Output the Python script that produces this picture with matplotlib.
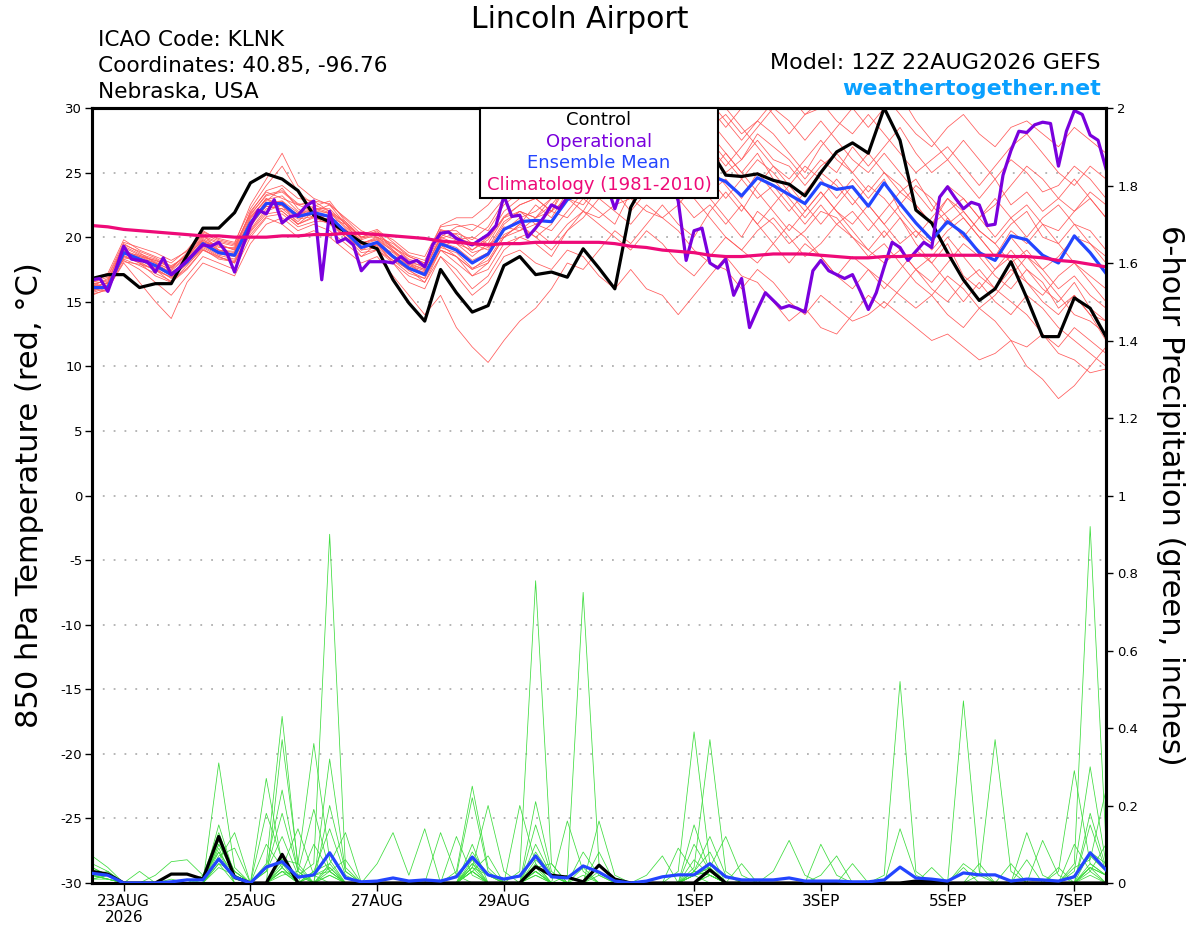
import numpy as np
import matplotlib
matplotlib.use("Agg")
import matplotlib.pyplot as plt
from matplotlib.patches import Rectangle

plt.rcParams['font.family'] = ['DejaVu Sans']

# ---------------- DATA ----------------
run_start = '2026-08-22T12:00'
n6 = 65     # 6-hourly points (0..384 h)
n3 = 129    # 3-hourly points for operational

tick_dates = ['2026-08-23', '2026-08-25', '2026-08-27', '2026-08-29',
              '2026-09-01', '2026-09-03', '2026-09-05', '2026-09-07']
tick_labels = ['23AUG\n2026', '25AUG', '27AUG', '29AUG', '1SEP', '3SEP', '5SEP', '7SEP']

control_t = [16.8, 17.1, 17.1, 16.1, 16.4, 16.4, 18.6, 20.7, 20.7, 21.9,
             24.2, 24.9, 24.5, 23.6, 21.7, 21.2, 20.4, 19.6, 19.1, 16.7,
             14.9, 13.5, 17.5, 15.7, 14.2, 14.7, 17.8, 18.5, 17.1, 17.3,
             16.9, 19.1, 17.6, 16.0, 22.3, 24.5, 26.0, 26.5, 27.5, 26.8,
             24.8, 24.7, 24.9, 24.4, 24.1, 23.2, 25.0, 26.6, 27.3, 26.5,
             30.0, 27.5, 22.1, 21.1, 18.8, 16.7, 15.1, 16.0, 18.1, 15.3,
             12.3, 12.3, 15.3, 14.5, 12.3]

mean_t = [16.1, 16.1, 18.8, 18.3, 17.8, 17.1, 18.1, 19.5, 18.8, 18.6,
          21.1, 22.6, 22.6, 21.6, 21.9, 21.6, 20.4, 19.2, 19.6, 18.5,
          17.6, 17.1, 19.5, 19.0, 18.0, 18.7, 20.6, 21.2, 21.3, 21.2,
          22.9, 23.5, 23.8, 24.2, 24.8, 25.2, 25.5, 25.3, 25.0, 24.8,
          24.3, 23.2, 24.6, 24.0, 23.3, 22.6, 24.2, 23.7, 23.9, 22.4,
          24.2, 22.6, 21.1, 19.8, 21.2, 20.3, 18.8, 18.2, 20.1, 19.8,
          18.6, 18.0, 20.1, 18.8, 17.2]

clim_t = [20.9, 20.8, 20.6, 20.5, 20.4, 20.3, 20.2, 20.1, 20.1, 20.0,
          20.0, 20.0, 20.1, 20.1, 20.2, 20.2, 20.3, 20.3, 20.2, 20.1,
          20.0, 19.9, 19.7, 19.6, 19.5, 19.4, 19.5, 19.5, 19.6, 19.6,
          19.6, 19.6, 19.6, 19.5, 19.3, 19.2, 19.0, 18.9, 18.8, 18.6,
          18.5, 18.5, 18.6, 18.7, 18.7, 18.7, 18.6, 18.5, 18.4, 18.4,
          18.5, 18.5, 18.6, 18.6, 18.6, 18.6, 18.6, 18.6, 18.5, 18.5,
          18.4, 18.2, 18.1, 17.9, 17.7]

oper_t = [16.7, 16.8, 15.8, 17.5, 19.3, 18.3, 18.2, 18.1, 17.3, 18.4,
          17.1, 17.6, 18.2, 18.8, 19.4, 19.3, 19.6, 18.8, 17.3, 19.2,
          20.9, 22.1, 21.8, 22.9, 21.1, 21.6, 21.7, 22.4, 22.8, 16.7,
          22.0, 19.6, 19.9, 19.4, 17.4, 18.1, 18.1, 18.1, 18.0, 18.5,
          18.0, 18.2, 17.7, 19.4, 20.3, 20.4, 19.9, 19.6, 19.4, 19.8,
          20.2, 20.9, 23.2, 21.6, 21.7, 20.0, 20.7, 21.5, 22.5, 22.2,
          23.1, 24.0, 25.0, 24.5, 25.5, 24.0, 22.2, 24.0, 25.0, 26.0,
          25.5, 26.5, 25.5, 24.5, 22.8, 18.2, 20.5, 20.7, 18.0, 17.6,
          18.3, 15.5, 16.8, 13.0, 14.4, 15.7, 15.1, 14.5, 14.7, 14.5,
          14.2, 17.4, 18.2, 17.4, 17.1, 16.8, 17.1, 15.8, 14.4, 15.7,
          17.7, 19.6, 19.2, 18.2, 18.9, 19.6, 19.2, 23.1, 23.9, 23.0,
          22.2, 22.7, 22.5, 20.9, 21.0, 24.8, 26.7, 28.2, 28.1, 28.7,
          28.9, 28.8, 25.5, 28.2, 29.8, 29.5, 27.9, 27.5, 25.3]

member_t01 = [16.0, 16.5, 19.5, 18.8, 18.0, 17.5, 18.5, 20.0, 19.5, 19.0,
              22.0, 23.5, 23.0, 22.5, 22.0, 21.5, 21.0, 20.0, 20.5, 19.0,
              18.0, 17.5, 20.0, 19.5, 19.0, 20.0, 21.5, 22.5, 23.0, 22.0,
              24.0, 25.0, 26.0, 27.0, 26.5, 28.0, 29.0, 28.5, 27.0, 28.5,
              29.5, 28.0, 29.0, 30.5, 31.0, 29.5, 30.0, 31.5, 31.0, 30.0,
              31.0, 29.5, 28.0, 27.0, 28.5, 29.5, 28.0, 27.0, 28.5, 29.0,
              28.0, 27.0, 28.5, 27.5, 26.5]
member_t02 = [16.5, 16.0, 18.5, 18.0, 17.5, 16.5, 17.5, 19.0, 18.5, 18.0,
              20.5, 22.0, 22.5, 21.0, 21.5, 21.0, 20.0, 18.5, 19.0, 18.0,
              16.5, 16.0, 18.5, 17.5, 16.0, 17.0, 19.0, 20.0, 20.5, 19.5,
              21.0, 22.0, 21.5, 22.5, 23.0, 22.0, 21.5, 20.5, 19.0, 18.0,
              17.5, 16.0, 17.5, 16.5, 15.0, 14.0, 15.5, 14.5, 13.5, 14.0,
              15.0, 14.0, 13.0, 12.0, 12.5, 11.5, 10.5, 11.0, 12.0, 10.0,
              9.0, 7.5, 8.5, 10.0, 11.5]
member_t03 = [15.8, 16.2, 19.0, 18.5, 18.0, 17.0, 18.0, 19.8, 19.0, 18.8,
              21.5, 23.0, 22.0, 21.0, 22.0, 22.5, 21.0, 19.5, 20.0, 19.0,
              18.0, 17.0, 19.0, 18.5, 17.0, 18.0, 20.0, 21.0, 20.0, 21.0,
              23.0, 22.0, 24.0, 25.5, 24.0, 26.0, 25.0, 24.0, 23.0, 21.5,
              20.0, 19.0, 20.5, 21.5, 20.0, 18.5, 19.5, 21.0, 22.0, 20.5,
              22.0, 23.5, 22.5, 21.0, 22.0, 23.0, 21.5, 20.0, 21.5, 22.5,
              21.0, 20.5, 22.0, 23.0, 21.5]
member_t04 = [16.2, 16.8, 18.2, 17.5, 16.5, 15.5, 17.0, 18.5, 18.0, 17.5,
              20.0, 21.5, 21.0, 20.0, 20.5, 20.0, 19.0, 18.0, 18.5, 17.0,
              15.5, 14.0, 15.5, 13.0, 11.5, 10.3, 12.0, 13.5, 14.5, 16.0,
              18.0, 17.5, 19.0, 20.5, 19.5, 21.0, 22.5, 21.0, 20.0, 22.0,
              23.5, 22.0, 24.0, 25.5, 24.5, 26.0, 27.5, 26.0, 25.0, 26.5,
              25.0, 23.5, 24.5, 22.5, 21.0, 22.0, 20.5, 19.5, 18.0, 19.0,
              17.5, 16.0, 17.0, 15.5, 14.5]
member_t05 = [15.5, 16.0, 18.0, 16.5, 15.0, 13.7, 16.5, 18.0, 17.5, 17.0,
              19.5, 21.0, 21.5, 20.5, 21.0, 20.5, 19.5, 18.5, 19.5, 18.0,
              17.0, 16.5, 19.0, 18.5, 17.5, 18.5, 20.5, 21.5, 22.0, 23.0,
              24.5, 26.0, 25.0, 27.0, 28.5, 27.0, 29.0, 30.5, 29.5, 28.0,
              26.5, 25.0, 26.5, 24.5, 23.0, 21.5, 23.0, 24.5, 23.0, 21.5,
              20.0, 21.5, 19.5, 18.0, 19.5, 17.0, 16.0, 17.5, 19.0, 17.5,
              16.0, 15.0, 16.5, 14.5, 13.5]
member_t06 = [16.8, 17.2, 19.8, 19.0, 18.5, 18.0, 19.0, 20.5, 19.8, 19.5,
              22.5, 24.5, 26.5, 24.0, 23.0, 22.5, 21.5, 20.5, 20.0, 19.5,
              18.5, 18.0, 20.5, 20.0, 19.5, 19.0, 21.0, 22.0, 21.5, 22.5,
              24.0, 25.5, 24.5, 26.0, 27.0, 28.5, 27.5, 29.0, 28.0, 26.5,
              25.0, 26.0, 27.5, 26.0, 25.5, 24.0, 25.5, 26.5, 25.0, 23.5,
              25.0, 24.0, 22.5, 21.0, 23.0, 22.0, 20.5, 19.5, 21.0, 22.0,
              20.0, 19.5, 21.0, 20.5, 19.0]
member_t07 = [16.0, 15.8, 18.6, 18.0, 17.0, 16.5, 17.8, 19.2, 18.5, 18.0,
              20.8, 22.5, 22.8, 21.5, 21.8, 21.0, 20.5, 19.0, 19.2, 18.2,
              17.5, 16.5, 18.5, 17.0, 15.5, 16.5, 18.5, 19.0, 18.0, 17.5,
              19.0, 18.5, 17.0, 16.0, 17.5, 16.0, 15.5, 14.0, 15.5, 17.0,
              18.5, 17.0, 16.5, 15.0, 13.5, 14.5, 13.0, 12.5, 14.0, 15.5,
              14.5, 16.0, 17.5, 16.0, 15.0, 16.5, 17.5, 16.0, 15.0, 14.0,
              12.5, 11.5, 13.0, 12.0, 11.0]
member_t08 = [16.4, 16.6, 19.2, 18.6, 18.2, 17.8, 18.5, 19.8, 19.2, 19.2,
              21.8, 23.2, 23.5, 22.5, 22.8, 22.0, 20.8, 19.8, 20.2, 19.2,
              18.5, 18.0, 20.5, 20.5, 19.5, 20.0, 22.0, 23.0, 24.0, 23.5,
              25.5, 27.0, 26.5, 28.0, 29.5, 28.5, 30.5, 31.0, 30.0, 29.0,
              27.5, 26.0, 28.0, 27.0, 26.0, 24.5, 26.0, 25.0, 27.0, 25.5,
              27.0, 28.5, 26.5, 25.0, 26.0, 24.5, 23.0, 24.5, 22.5, 23.5,
              22.0, 23.0, 24.5, 23.0, 21.5]
member_t09 = [15.6, 15.9, 18.4, 18.2, 17.6, 16.8, 18.0, 19.4, 18.7, 18.5,
              20.6, 22.2, 22.5, 21.8, 22.2, 21.8, 20.2, 19.4, 19.8, 18.6,
              17.8, 17.2, 19.8, 19.5, 18.5, 19.5, 21.5, 22.0, 21.0, 20.5,
              22.0, 23.5, 24.5, 23.0, 24.5, 25.5, 26.5, 25.0, 26.0, 27.5,
              26.0, 24.5, 23.0, 24.0, 22.5, 21.0, 22.5, 21.0, 20.0, 18.5,
              19.5, 18.0, 16.5, 15.5, 17.0, 16.0, 14.5, 15.5, 17.0, 18.5,
              17.0, 15.5, 14.0, 13.5, 12.5]
member_t10 = [16.6, 16.4, 18.9, 18.4, 18.0, 17.2, 18.2, 19.6, 19.4, 19.0,
              21.2, 22.8, 23.8, 22.2, 21.5, 21.2, 20.6, 19.2, 19.4, 18.8,
              17.8, 17.4, 19.2, 19.8, 20.0, 19.5, 20.0, 20.5, 21.5, 22.0,
              21.5, 23.0, 22.0, 21.0, 23.5, 24.5, 23.5, 25.0, 26.5, 25.5,
              24.0, 22.5, 21.0, 22.5, 24.0, 25.5, 24.5, 23.0, 24.5, 23.0,
              24.5, 22.0, 20.5, 19.5, 21.5, 20.0, 19.0, 17.5, 18.5, 16.5,
              15.5, 17.0, 18.0, 16.5, 15.0]
member_t11 = [16.2, 16.4, 18.7, 18.5, 18.2, 17.6, 18.8, 20.2, 19.0, 18.6,
              21.0, 22.4, 22.2, 21.2, 22.4, 22.8, 21.2, 20.0, 20.4, 19.8,
              18.8, 18.5, 20.8, 21.0, 20.5, 21.5, 23.0, 24.0, 25.0, 24.0,
              26.0, 25.0, 27.0, 26.0, 25.5, 24.0, 25.5, 27.0, 26.0, 24.5,
              23.0, 24.5, 26.0, 25.0, 23.5, 22.0, 23.5, 22.0, 21.0, 22.5,
              21.0, 19.5, 20.5, 19.0, 20.5, 21.5, 20.0, 18.5, 20.0, 18.5,
              17.5, 18.5, 20.0, 19.5, 18.0]
member_t12 = [15.9, 16.3, 18.3, 17.8, 17.2, 16.6, 17.6, 19.0, 18.4, 18.2,
              20.4, 21.8, 22.0, 21.0, 21.6, 21.4, 20.0, 18.8, 19.0, 18.2,
              17.2, 16.8, 19.0, 18.0, 17.0, 17.5, 19.5, 20.0, 19.5, 18.5,
              20.5, 21.5, 23.0, 22.0, 21.0, 22.5, 21.5, 22.5, 24.0, 23.0,
              21.5, 20.0, 22.0, 21.0, 19.5, 20.5, 22.0, 21.5, 20.0, 19.0,
              18.0, 19.0, 17.5, 16.5, 18.0, 19.5, 18.5, 17.0, 16.0, 17.5,
              16.5, 14.5, 15.5, 14.0, 13.5]
member_t13 = [16.3, 16.0, 19.1, 18.1, 17.4, 16.9, 18.3, 19.7, 19.0, 18.9,
              21.4, 23.0, 22.4, 21.4, 21.6, 21.6, 20.2, 19.0, 19.6, 18.4,
              17.4, 16.8, 19.4, 18.5, 17.5, 18.0, 20.0, 21.0, 22.5, 21.5,
              23.5, 24.0, 25.5, 24.5, 26.0, 27.5, 28.5, 27.0, 29.0, 30.5,
              29.0, 27.5, 29.0, 28.0, 26.5, 25.0, 27.0, 28.5, 30.0, 28.5,
              30.0, 31.0, 29.0, 27.5, 26.0, 27.5, 26.0, 24.5, 26.0, 25.0,
              23.5, 24.0, 25.5, 24.5, 23.0]
member_t14 = [16.0, 16.2, 18.5, 18.3, 17.9, 17.3, 18.0, 19.3, 18.6, 18.3,
              20.9, 22.4, 22.2, 21.8, 21.9, 21.2, 20.4, 19.6, 19.3, 18.4,
              17.6, 17.3, 19.6, 19.2, 18.2, 18.8, 20.8, 20.5, 21.0, 22.0,
              23.0, 22.5, 24.0, 23.5, 22.0, 23.5, 24.5, 23.0, 21.5, 22.5,
              21.0, 22.5, 21.0, 19.5, 18.0, 19.5, 18.5, 17.0, 16.0, 17.5,
              16.0, 17.5, 19.0, 18.0, 16.5, 15.0, 16.5, 15.0, 14.0, 15.5,
              14.5, 13.0, 12.0, 11.0, 10.0]
member_t15 = [16.1, 16.5, 18.8, 18.6, 18.1, 17.4, 18.4, 19.9, 19.3, 19.1,
              21.6, 22.9, 23.2, 22.0, 22.2, 22.2, 21.0, 19.6, 19.8, 18.9,
              18.0, 17.8, 20.2, 19.8, 18.8, 19.2, 21.2, 22.0, 21.5, 23.0,
              24.0, 23.5, 25.0, 26.5, 28.0, 27.0, 26.0, 27.5, 28.5, 27.0,
              25.5, 27.0, 28.5, 30.0, 29.0, 27.5, 29.0, 27.5, 26.0, 25.0,
              26.5, 25.0, 23.5, 22.0, 24.0, 23.0, 21.5, 22.5, 24.0, 25.5,
              24.5, 23.0, 22.0, 23.5, 22.5]
member_t16 = [16.5, 16.9, 19.4, 18.9, 18.4, 17.7, 18.6, 20.1, 19.6, 19.3,
              21.9, 23.6, 24.0, 23.0, 22.8, 22.6, 21.4, 20.2, 20.6, 19.6,
              18.6, 18.2, 20.6, 20.2, 19.0, 19.8, 21.6, 22.5, 23.0, 22.0,
              24.5, 26.0, 25.0, 26.5, 25.0, 26.5, 27.5, 26.0, 24.5, 23.5,
              24.5, 23.0, 25.0, 23.5, 22.0, 23.5, 25.0, 24.0, 22.5, 24.0,
              23.0, 21.5, 20.0, 21.5, 23.0, 21.5, 20.0, 18.5, 20.5, 19.5,
              21.0, 19.5, 18.0, 17.0, 16.0]
member_t17 = [15.7, 16.1, 18.1, 17.9, 17.5, 16.9, 17.9, 19.1, 18.3, 18.1,
              20.2, 21.6, 21.8, 20.8, 21.2, 21.2, 20.0, 19.2, 19.4, 18.6,
              17.6, 17.0, 19.2, 18.8, 17.6, 18.2, 20.2, 20.8, 20.0, 19.0,
              20.5, 22.0, 21.0, 20.0, 19.0, 20.5, 19.5, 18.0, 17.0, 18.5,
              20.0, 19.0, 18.0, 19.5, 21.0, 20.0, 18.5, 17.0, 18.5, 17.5,
              16.5, 15.5, 14.5, 15.5, 14.0, 13.0, 14.5, 13.5, 12.0, 11.5,
              12.5, 11.0, 10.5, 9.5, 9.8]
member_t18 = [16.7, 17.0, 19.6, 19.2, 18.8, 18.2, 18.9, 20.4, 19.9, 19.6,
              22.2, 24.0, 25.5, 23.5, 22.5, 22.0, 21.2, 20.0, 20.0, 19.2,
              18.2, 17.6, 20.0, 20.8, 21.0, 20.5, 22.5, 23.5, 24.5, 25.0,
              26.5, 27.5, 28.5, 30.0, 31.0, 30.0, 29.0, 30.5, 31.5, 30.0,
              28.5, 30.0, 31.0, 29.5, 28.0, 29.5, 30.5, 29.0, 28.0, 29.5,
              28.0, 26.5, 25.0, 26.0, 27.0, 25.5, 24.0, 25.5, 27.0, 28.0,
              26.5, 25.0, 24.0, 25.5, 24.5]
member_t19 = [16.3, 16.7, 19.3, 18.7, 18.3, 17.6, 18.7, 20.3, 19.7, 19.4,
              21.7, 23.3, 23.6, 22.6, 22.3, 21.9, 21.1, 19.9, 20.3, 19.3,
              18.3, 17.9, 20.9, 21.5, 21.5, 22.5, 24.0, 25.5, 26.5, 27.5,
              28.5, 29.5, 30.5, 31.5, 30.0, 28.5, 29.5, 28.0, 26.5, 25.0,
              26.5, 25.0, 23.5, 22.0, 20.5, 22.0, 23.5, 22.0, 20.5, 19.0,
              20.5, 19.0, 17.5, 18.5, 20.0, 18.5, 17.0, 16.0, 17.5, 16.5,
              15.0, 14.0, 15.5, 14.0, 12.0]
member_t20 = [16.0, 16.3, 18.9, 18.2, 17.7, 17.0, 18.1, 19.6, 18.9, 18.7,
              21.2, 22.7, 22.8, 21.9, 22.0, 21.9, 20.7, 19.5, 19.9, 18.9,
              17.9, 17.5, 19.9, 20.3, 19.8, 20.8, 22.8, 24.0, 24.5, 25.5,
              27.0, 28.0, 29.5, 28.5, 30.0, 31.0, 30.0, 28.5, 29.5, 31.0,
              30.0, 28.5, 27.0, 25.5, 24.0, 22.5, 21.0, 22.5, 24.0, 22.5,
              21.0, 22.5, 24.0, 23.0, 21.5, 20.0, 21.5, 23.0, 21.5, 20.0,
              21.5, 22.5, 21.0, 19.5, 18.5]

members_t = [member_t01, member_t02, member_t03, member_t04, member_t05, member_t06,
             member_t07, member_t08, member_t09, member_t10, member_t11, member_t12,
             member_t13, member_t14, member_t15, member_t16, member_t17, member_t18,
             member_t19, member_t20]

# 6-hour precipitation (inches)
control_p = [0.03, 0.023, 0, 0, 0, 0.023, 0.023, 0.01, 0.12, 0.015,
             0, 0, 0.074, 0, 0, 0, 0, 0, 0, 0,
             0, 0, 0, 0, 0, 0, 0, 0, 0.042, 0.02,
             0.015, 0.003, 0.046, 0.01, 0, 0, 0, 0, 0, 0.034,
             0, 0, 0, 0, 0, 0, 0, 0, 0, 0,
             0, 0, 0.005, 0.005, 0, 0, 0, 0, 0, 0,
             0, 0, 0, 0, 0]
mean_p = [0.025, 0.02, 0, 0, 0, 0.003, 0.008, 0.008, 0.062, 0.015,
          0, 0.041, 0.055, 0.015, 0.021, 0.078, 0.013, 0.003, 0.005, 0.013,
          0.005, 0.008, 0.005, 0.016, 0.067, 0.021, 0.01, 0.018, 0.07, 0.016,
          0.013, 0.044, 0.028, 0.005, 0, 0.005, 0.016, 0.021, 0.021, 0.05,
          0.016, 0.008, 0.008, 0.008, 0.013, 0.005, 0.005, 0.005, 0.003, 0.003,
          0.008, 0.041, 0.013, 0.01, 0.005, 0.026, 0.021, 0.021, 0.005, 0.01,
          0.008, 0.005, 0.016, 0.078, 0.034]

member_p01 = [0.02, 0.01, 0, 0, 0, 0, 0, 0.01, 0.12, 0.03, 0, 0, 0.05,
              0.02, 0.05, 0.90, 0.04, 0, 0, 0, 0, 0, 0, 0, 0.08, 0.02,
              0, 0, 0.05, 0, 0, 0, 0, 0, 0, 0, 0, 0, 0, 0.02,
              0, 0, 0, 0, 0, 0, 0, 0, 0, 0, 0, 0, 0, 0, 0,
              0, 0, 0, 0, 0, 0, 0, 0.03, 0.30, 0.05]
member_p02 = [0.01, 0.02, 0, 0, 0, 0.01, 0, 0, 0.05, 0, 0, 0.03, 0.18,
              0.03, 0, 0.02, 0, 0, 0, 0, 0, 0, 0, 0.02, 0.22, 0.03,
              0, 0.03, 0.78, 0.05, 0, 0, 0.02, 0, 0, 0, 0, 0, 0.10, 0.03,
              0, 0, 0, 0, 0, 0, 0, 0, 0, 0, 0, 0, 0, 0, 0,
              0.05, 0.02, 0, 0, 0, 0, 0, 0, 0.02, 0]
member_p03 = [0.03, 0.02, 0, 0, 0, 0, 0.01, 0, 0.31, 0.04, 0, 0, 0.03,
              0, 0.10, 0.03, 0, 0, 0, 0, 0, 0, 0, 0, 0.03, 0,
              0, 0, 0.03, 0, 0.02, 0.75, 0.05, 0, 0, 0, 0, 0, 0.03, 0.12,
              0.02, 0, 0, 0, 0, 0, 0, 0, 0, 0, 0, 0, 0, 0, 0,
              0, 0, 0, 0, 0.13, 0.02, 0, 0, 0, 0]
member_p04 = [0.02, 0.03, 0, 0, 0, 0, 0, 0, 0.10, 0.02, 0, 0.05, 0.43,
              0.04, 0, 0.05, 0, 0, 0, 0, 0, 0, 0.13, 0.02, 0, 0,
              0, 0, 0.02, 0, 0.16, 0.03, 0, 0, 0, 0, 0, 0, 0, 0.02,
              0, 0, 0, 0, 0, 0, 0.02, 0.07, 0, 0, 0, 0, 0, 0, 0,
              0, 0, 0, 0, 0, 0, 0, 0.05, 0.92, 0.10]
member_p05 = [0.01, 0.01, 0, 0, 0, 0, 0, 0, 0.06, 0.01, 0, 0.27, 0.05,
              0, 0.02, 0.04, 0, 0, 0, 0, 0, 0, 0, 0, 0.04, 0.20,
              0.03, 0, 0.04, 0, 0, 0.02, 0, 0, 0, 0, 0, 0.03, 0.39, 0.05,
              0, 0, 0, 0, 0, 0, 0, 0, 0, 0, 0.02, 0.52, 0.03, 0, 0,
              0, 0, 0, 0, 0, 0, 0, 0.10, 0.03, 0]
member_p06 = [0.03, 0.02, 0, 0, 0, 0, 0, 0.02, 0.08, 0, 0, 0, 0.06,
              0.05, 0.36, 0.06, 0, 0, 0, 0, 0, 0, 0, 0.03, 0.25, 0.04,
              0, 0, 0.06, 0.02, 0, 0.04, 0, 0, 0, 0, 0, 0, 0.02, 0.04,
              0.12, 0.02, 0, 0, 0, 0, 0, 0, 0, 0, 0, 0, 0, 0, 0,
              0.47, 0.03, 0, 0, 0, 0, 0, 0.04, 0.06, 0.24]
member_p07 = [0.02, 0.01, 0, 0, 0, 0, 0, 0, 0.11, 0.02, 0, 0, 0.04,
              0.14, 0.02, 0, 0, 0, 0, 0, 0, 0, 0, 0, 0.05, 0.02,
              0, 0.20, 0.05, 0, 0, 0, 0.03, 0, 0, 0, 0, 0, 0.04, 0.37,
              0.03, 0, 0, 0, 0, 0, 0.10, 0.02, 0, 0, 0, 0, 0, 0, 0,
              0, 0.02, 0.37, 0.03, 0, 0, 0, 0, 0.05, 0.02]
member_p08 = [0.04, 0.02, 0, 0, 0, 0, 0, 0, 0.07, 0.09, 0, 0, 0.03,
              0.02, 0, 0.32, 0.03, 0, 0, 0, 0, 0, 0, 0, 0.06, 0,
              0, 0, 0.08, 0.02, 0, 0, 0.16, 0.02, 0, 0, 0, 0, 0.15, 0.03,
              0, 0, 0, 0, 0, 0, 0, 0, 0, 0, 0, 0, 0, 0, 0,
              0, 0, 0, 0, 0, 0.11, 0.02, 0, 0.18, 0.04]
member_p09 = [0.01, 0.02, 0, 0, 0, 0, 0, 0, 0.04, 0.02, 0, 0.18, 0.06,
              0, 0.03, 0.05, 0.13, 0, 0, 0, 0, 0, 0, 0, 0.03, 0,
              0, 0, 0.21, 0.03, 0, 0, 0, 0, 0, 0, 0, 0, 0.03, 0.02,
              0, 0, 0, 0.03, 0.11, 0.02, 0, 0, 0, 0, 0, 0.14, 0.02, 0, 0,
              0, 0, 0, 0, 0, 0, 0, 0.02, 0.07, 0.03]
member_p10 = [0.02, 0.01, 0, 0, 0, 0, 0, 0, 0.09, 0, 0, 0, 0.03,
              0, 0, 0.03, 0, 0, 0.05, 0.13, 0.02, 0.14, 0, 0, 0.10, 0,
              0, 0, 0.03, 0, 0, 0, 0, 0, 0, 0.02, 0.07, 0, 0.02, 0.04,
              0, 0, 0, 0, 0, 0, 0, 0, 0, 0, 0, 0, 0, 0, 0,
              0, 0, 0, 0, 0, 0, 0.03, 0.29, 0.05, 0.02]
member_p11 = [0.05, 0.03, 0, 0, 0.02, 0.055, 0.06, 0.02, 0.13, 0.02, 0, 0.04, 0.24,
              0.03, 0, 0.04, 0, 0, 0, 0, 0, 0, 0, 0, 0.04, 0.02,
              0, 0, 0.15, 0.02, 0, 0, 0, 0, 0, 0, 0, 0, 0.02, 0.03,
              0, 0, 0, 0, 0, 0, 0, 0, 0, 0, 0, 0, 0, 0, 0,
              0, 0.05, 0, 0, 0, 0, 0, 0, 0.03, 0.10]
member_p12 = [0.07, 0.04, 0, 0, 0, 0, 0, 0, 0.05, 0.03, 0, 0, 0.37,
              0.05, 0, 0.02, 0, 0, 0, 0, 0, 0, 0, 0.12, 0.02, 0,
              0, 0, 0.03, 0, 0, 0, 0.08, 0, 0, 0, 0, 0, 0.02, 0,
              0, 0, 0, 0, 0, 0, 0, 0, 0, 0, 0, 0, 0, 0.04, 0,
              0, 0, 0, 0, 0.06, 0, 0, 0, 0.04, 0]
member_p13 = [0.02, 0.01, 0, 0, 0, 0, 0, 0, 0.15, 0.02, 0, 0, 0.04,
              0, 0.03, 0.14, 0.02, 0, 0, 0, 0, 0, 0, 0, 0.03, 0,
              0, 0, 0.04, 0.05, 0, 0, 0, 0, 0, 0, 0, 0.09, 0.03, 0.02,
              0, 0.05, 0, 0, 0, 0, 0, 0, 0, 0, 0, 0, 0, 0, 0,
              0, 0, 0, 0, 0, 0, 0, 0, 0.15, 0.03]
member_p14 = [0.03, 0.02, 0, 0.03, 0, 0, 0, 0, 0.06, 0.13, 0, 0, 0.02,
              0.03, 0.19, 0.03, 0, 0, 0, 0, 0, 0, 0, 0, 0.05, 0,
              0, 0, 0.02, 0, 0, 0.08, 0.02, 0, 0, 0, 0, 0, 0.02, 0.03,
              0, 0, 0, 0, 0, 0, 0, 0, 0.05, 0, 0, 0, 0, 0, 0,
              0, 0, 0, 0, 0, 0, 0.04, 0, 0.04, 0.02]
member_p15 = [0.02, 0.02, 0, 0, 0, 0, 0, 0, 0.08, 0.02, 0, 0.10, 0.04,
              0, 0.02, 0.03, 0.06, 0, 0, 0, 0, 0, 0, 0, 0.03, 0.07,
              0, 0, 0.03, 0, 0, 0, 0, 0, 0, 0, 0, 0, 0.06, 0.02,
              0, 0, 0, 0, 0, 0, 0, 0, 0, 0, 0, 0, 0, 0, 0,
              0, 0, 0, 0.05, 0, 0, 0, 0, 0.08, 0.05]
member_p16 = [0.04, 0.02, 0, 0, 0, 0, 0, 0, 0.10, 0.03, 0, 0.03, 0.12,
              0.02, 0, 0.20, 0.03, 0, 0, 0, 0, 0, 0, 0, 0.04, 0,
              0, 0, 0.10, 0.02, 0, 0, 0, 0, 0, 0, 0, 0, 0.03, 0.08,
              0, 0, 0, 0, 0, 0, 0, 0, 0, 0, 0, 0, 0, 0, 0,
              0.04, 0, 0, 0, 0, 0, 0, 0, 0.04, 0.02]

members_p = [member_p01, member_p02, member_p03, member_p04, member_p05, member_p06,
             member_p07, member_p08, member_p09, member_p10, member_p11, member_p12,
             member_p13, member_p14, member_p15, member_p16]

title_text = 'Lincoln Airport'
info_left = ['ICAO Code: KLNK', 'Coordinates: 40.85, -96.76', 'Nebraska, USA']
model_text = 'Model: 12Z 22AUG2026 GEFS'
site_text = 'weathertogether.net'
legend_entries = ['Control', 'Operational', 'Ensemble Mean', 'Climatology (1981-2010)']

# ---------------- STYLE ----------------
c_member = '#ff5a5a'
c_pmember = '#3ddc3d'
c_control = '#000000'
c_oper = '#7a00dd'
c_mean = '#2345ff'
c_clim = '#ee0a78'
legend_colors = [c_control, c_oper, c_mean, c_clim]

W, H = 1200, 927
t0 = np.datetime64(run_start)
times6 = t0 + np.arange(n6) * np.timedelta64(6, 'h')
times3 = t0 + np.arange(n3) * np.timedelta64(3, 'h')

fig = plt.figure(figsize=(W / 100, H / 100), dpi=100)
L, R, T, B = 92, 1106, 108, 883
ax = fig.add_axes([L / W, 1 - B / H, (R - L) / W, (B - T) / H])
ax2 = ax.twinx()

thin = 0.55
thick = 2.3

for m in members_t:
    ax.plot(times6, m, color=c_member, lw=thin, zorder=2)
ax.plot(times6, control_t, color=c_control, lw=thick, zorder=4)
ax.plot(times6, mean_t, color=c_mean, lw=thick, zorder=5)
ax.plot(times3, oper_t, color=c_oper, lw=thick, zorder=6)
ax.plot(times6, clim_t, color=c_clim, lw=thick, zorder=7)

for m in members_p:
    ax2.plot(times6, m, color=c_pmember, lw=thin, zorder=2)
ax2.plot(times6, control_p, color=c_control, lw=thick, zorder=4)
ax2.plot(times6, mean_p, color=c_mean, lw=thick, zorder=5)

ax.set_xlim(times6[0], times6[-1])
ax.set_ylim(-30, 30)
ax2.set_ylim(0, 2)

ax.set_yticks(np.arange(-30, 31, 5))
ax.set_yticklabels([str(v) for v in range(-30, 31, 5)])
ax.yaxis.grid(True, color='#b0b0b0', linestyle=(0, (1, 5)), lw=1.3)
ax.set_axisbelow(True)
ax2.set_yticks(np.arange(0, 2.01, 0.2))
ax2.set_yticklabels(['0', '0.2', '0.4', '0.6', '0.8', '1', '1.2', '1.4', '1.6', '1.8', '2'])

ax.set_xticks([np.datetime64(d + 'T00:00') for d in tick_dates])
ax.set_xticklabels(tick_labels, ha='center', linespacing=1.1)

for a in (ax, ax2):
    for s in a.spines.values():
        s.set_linewidth(2.2)
        s.set_color('black')
ax.tick_params(axis='y', direction='out', length=5, width=1, labelsize=9.5, pad=2)
ax2.tick_params(axis='y', direction='out', length=5, width=1, labelsize=9.5, pad=3)
ax.tick_params(axis='x', direction='out', length=6, width=1, labelsize=11, pad=2)

fig.text(30 / W, 1 - 495 / H, '850 hPa Temperature (red, °C)', rotation=90,
         ha='center', va='center', fontsize=22)
fig.text(1170 / W, 1 - 495 / H, '6-hour Precipitation (green, inches)', rotation=270,
         ha='center', va='center', fontsize=22)

fig.text(580 / W, 1 - 19 / H, title_text, ha='center', va='center', fontsize=21.5)
for k, s in enumerate(info_left):
    fig.text(98 / W, 1 - (40 + 26 * k) / H, s, ha='left', va='center', fontsize=15.6)
fig.text(1101 / W, 1 - 63 / H, model_text, ha='right', va='center', fontsize=16.0)
fig.text(1101 / W, 1 - 89 / H, site_text, ha='right', va='center', fontsize=15.9,
         color='#0aa0ff', fontweight='bold')

# legend box
bx0, by0, bx1, by1 = 480, 108, 718, 198
fig.patches.append(Rectangle((bx0 / W, 1 - by1 / H), (bx1 - bx0) / W, (by1 - by0) / H,
                             transform=fig.transFigure, facecolor='white',
                             edgecolor='black', lw=1.5, zorder=10))
for k, (s, c) in enumerate(zip(legend_entries, legend_colors)):
    fig.text(599 / W, 1 - (120 + 21.7 * k) / H, s, ha='center', va='center',
             fontsize=13, color=c, zorder=11)

fig.savefig('out.png', dpi=100)
